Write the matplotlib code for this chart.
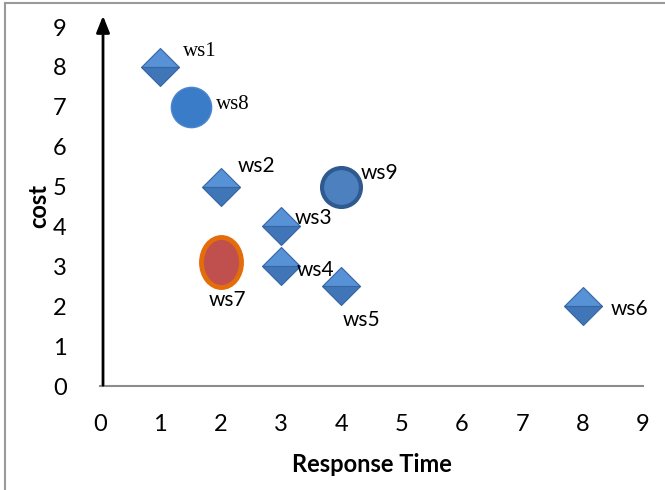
import matplotlib
matplotlib.use("Agg")
import matplotlib.pyplot as plt
from matplotlib.path import Path
from matplotlib.transforms import Affine2D
from matplotlib.lines import Line2D

# data
diamond_names = ["ws1", "ws2", "ws3", "ws4", "ws5", "ws6"]
diamond_x = [1, 2, 3, 3, 4, 8]
diamond_y = [8, 5, 4, 3, 2.5, 2]

circle_names = ["ws7", "ws8", "ws9"]
circle_x = [2, 1.5, 4]
circle_y = [3.1, 7, 5]

x_ticks = [0, 1, 2, 3, 4, 5, 6, 7, 8, 9]
y_ticks = [0, 1, 2, 3, 4, 5, 6, 7, 8, 9]

# label offsets in points (dx, dy), fonts
label_style = {
    "ws1": ((16, 11), "Liberation Serif"),
    "ws2": ((12, 15), "Lato"),
    "ws3": ((10, 6), "Lato"),
    "ws4": ((11, -3), "Lato"),
    "ws5": ((1, -24), "Lato"),
    "ws6": ((20, -2), "Lato"),
    "ws7": ((-9, -27), "Lato"),
    "ws8": ((18, 2), "Liberation Serif"),
    "ws9": ((14, 10), "Lato"),
}

fig = plt.figure(figsize=(6.65, 4.9), dpi=100)
ax = fig.add_axes([100 / 665, 104 / 490, 543 / 665, 359 / 490])
ax.set_xlim(0, 9)
ax.set_ylim(0, 9)

# outer frame of the chart object
fig.add_artist(Line2D([5 / 665, 5 / 665], [0, 487 / 490], color="#9a9a9a", lw=1.5))
fig.add_artist(Line2D([5 / 665, 1], [487 / 490, 487 / 490], color="#9a9a9a", lw=1.5))

for s in ["left", "top", "right"]:
    ax.spines[s].set_visible(False)
ax.spines["bottom"].set_color("#8c8c8c")
ax.spines["bottom"].set_linewidth(1.5)
ax.tick_params(length=0, labelsize=17)
ax.set_xticks(x_ticks)
ax.set_yticks(y_ticks)
ax.tick_params(axis="x", pad=20)
ax.tick_params(axis="y", pad=24)
for lab in ax.get_xticklabels() + ax.get_yticklabels():
    lab.set_family("Lato")

# black arrow used as y axis
ax.annotate("", xy=(0.05, 9.35), xytext=(0.05, -0.05),
            arrowprops=dict(arrowstyle="-|>,head_width=0.4,head_length=1.0",
                            color="black", lw=2), annotation_clip=False)

# diamonds with two tone shading
ax.plot(diamond_x, diamond_y, linestyle="none", marker="D", markersize=19,
        fillstyle="top", markerfacecolor="#5892d6", markerfacecoloralt="#4076b8",
        markeredgecolor="#3565a3", markeredgewidth=0.8, zorder=3)

# circles
ellipse = Path.unit_circle().transformed(Affine2D().scale(0.8, 1.0))
ax.plot(circle_x[0], circle_y[0], linestyle="none", marker=ellipse, markersize=36,
        markerfacecolor="#c0504d", markeredgecolor="#e46c0a", markeredgewidth=3.5, zorder=3)
ax.plot(circle_x[1], circle_y[1], linestyle="none", marker="o", markersize=29,
        markerfacecolor="#3b7cc8", markeredgecolor="#4a86cf", markeredgewidth=1, zorder=3)
ax.plot(circle_x[2], circle_y[2], linestyle="none", marker="o", markersize=28,
        markerfacecolor="#4c80bf", markeredgecolor="#2f5a90", markeredgewidth=3, zorder=3)

names = diamond_names + circle_names
xs = diamond_x + circle_x
ys = diamond_y + circle_y
for n, x, y in zip(names, xs, ys):
    (dx, dy), fam = label_style[n]
    ax.annotate(n, (x, y), xytext=(dx, dy), textcoords="offset points",
                ha="left", va="center", fontsize=15, family=fam, zorder=4)

ax.set_xlabel("Response Time", fontsize=17, fontweight="bold", family="Lato", labelpad=13)
ax.set_ylabel("cost", fontsize=17, fontweight="bold", family="Lato", labelpad=2)

fig.savefig("out.png", dpi=100)
